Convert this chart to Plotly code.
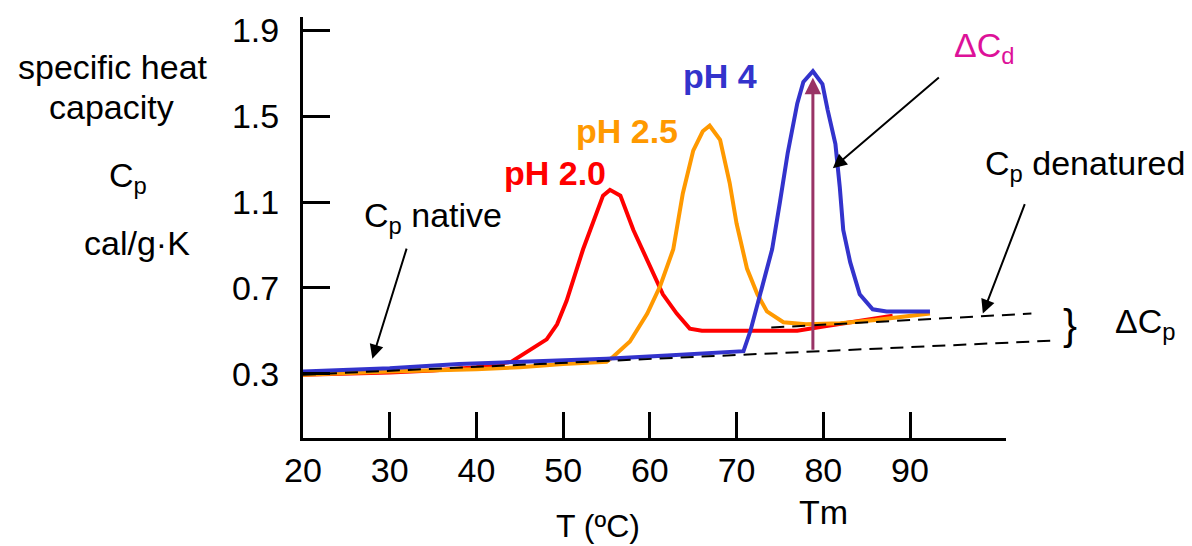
import plotly.graph_objects as go

# ---------------- data ----------------
T_red = [20, 25, 30, 35, 40, 44, 46.5, 48.1, 49.3, 50.4, 52.3, 53.4, 54.6, 55.4,
         56.6, 58.1, 59.7, 61.5, 63.1, 64.6, 66, 70, 75, 77, 80, 85, 88]
cp_red = [0.295, 0.30, 0.305, 0.315, 0.33, 0.355, 0.42, 0.46, 0.53, 0.64, 0.88, 1.0,
          1.13, 1.157, 1.13, 0.97, 0.83, 0.67, 0.58, 0.51, 0.50, 0.50, 0.50, 0.50,
          0.52, 0.55, 0.57]

T_orange = [20, 30, 40, 45, 50, 55, 55.8, 57.7, 59.7, 61.2, 62.7, 63.8, 65.0, 66.1,
            66.9, 68.1, 69.2, 70.0, 71.2, 72.4, 73.5, 75.4, 78, 82, 86, 90, 92.3]
cp_orange = [0.295, 0.31, 0.32, 0.33, 0.345, 0.355, 0.38, 0.45, 0.58, 0.71, 0.88,
             1.14, 1.34, 1.43, 1.456, 1.39, 1.19, 1.0, 0.79, 0.67, 0.59, 0.54, 0.53,
             0.535, 0.55, 0.57, 0.58]

T_blue = [20, 30, 38, 45, 55, 62, 70, 70.8, 71.6, 72.4, 73.1, 74.1, 75.0, 75.9,
          77.0, 77.7, 78.8, 79.9, 80.5, 81.4, 81.9, 82.3, 83.1, 83.7, 84.2, 85.7,
          87.3, 92.3]
cp_blue = [0.31, 0.325, 0.345, 0.355, 0.37, 0.385, 0.40, 0.405, 0.50, 0.62, 0.73,
           0.88, 1.10, 1.33, 1.56, 1.66, 1.71, 1.65, 1.53, 1.37, 1.17, 0.97, 0.82,
           0.73, 0.67, 0.60, 0.59, 0.59]

T_native_base = [20, 107]
cp_native_base = [0.295, 0.455]
T_denat_base = [74, 104]
cp_denat_base = [0.515, 0.58]

Tm = 78.8
dCd_bottom = 0.405
dCd_top = 1.68

x_ticks = [20, 30, 40, 50, 60, 70, 80, 90]
y_ticks = [0.3, 0.7, 1.1, 1.5, 1.9]

# ---------------- layout geometry ----------------
W, H = 1192, 546
ML, MR, MT, MB = 303, 20, 12, 108
PW, PH = W - ML - MR, H - MT - MB
X0, X1 = 20, 101.07          # visible x axis
px_per_unit = 703 / (X1 - X0)
X2_END = X0 + PW / px_per_unit
Y_RANGE = [0, 1.963]

FONT = "Arial, Liberation Sans, sans-serif"
FS = 34

def px(xp):
    return (xp - ML) / PW

def py(yp):
    return (H - MB - yp) / PH

fig = go.Figure()

fig.add_trace(go.Scatter(x=T_red, y=cp_red, mode="lines",
                         line=dict(color="#FF0000", width=4), xaxis="x", yaxis="y"))
fig.add_trace(go.Scatter(x=T_orange, y=cp_orange, mode="lines",
                         line=dict(color="#FF9900", width=4), xaxis="x", yaxis="y"))
fig.add_trace(go.Scatter(x=T_blue, y=cp_blue, mode="lines",
                         line=dict(color="#3333CC", width=4), xaxis="x", yaxis="y"))
fig.add_trace(go.Scatter(x=T_native_base, y=cp_native_base, mode="lines",
                         line=dict(color="black", width=2, dash="13px,8px"),
                         xaxis="x2", yaxis="y"))
fig.add_trace(go.Scatter(x=T_denat_base, y=cp_denat_base, mode="lines",
                         line=dict(color="black", width=2, dash="13px,8px"),
                         xaxis="x2", yaxis="y"))

def label(x, y, text, xref="x2", yref="y", size=FS, color="black"):
    return dict(x=x, y=y, xref=xref, yref=yref, text=text, showarrow=False,
                xanchor="center", yanchor="middle",
                font=dict(family=FONT, size=size, color=color))

def arrow(x, y, ax, ay, color="black", width=2, size=1.4):
    return dict(x=x, y=y, ax=ax, ay=ay, xref="x2", yref="y", axref="x2",
                ayref="y", text="", showarrow=True, arrowhead=2,
                arrowsize=size, arrowwidth=width, arrowcolor=color)

ann = []
# vertical delta Cd arrow at Tm
ann.append(arrow(Tm, dCd_top, Tm, dCd_bottom, color="#993366", width=3, size=1.1))
# pH labels
ann.append(label(68.1, 1.69, "<b>pH 4</b>", color="#3333CC"))
ann.append(label(57.4, 1.43, "<b>pH 2.5</b>", color="#FF9900"))
ann.append(label(49.1, 1.235, "<b>pH 2.0</b>", color="#FF0000"))
# Delta Cd label + arrow
ann.append(label(98.6, 1.82, "ΔC<sub>d</sub>", color="#DD1199"))
ann.append(arrow(81.1, 1.258, 93.5, 1.687))
# Cp native
ann.append(label(35.0, 1.03, "C<sub>p</sub> native"))
ann.append(arrow(28.0, 0.37, 32.0, 0.89))
# Cp denatured
ann.append(label(110.2, 1.27, "C<sub>p</sub> denatured"))
ann.append(arrow(98.4, 0.58, 103.3, 1.097))
# bracket and delta Cp
ann.append(label(108.5, 0.53, "}", size=42))
ann.append(label(117.1, 0.535, "ΔC<sub>p</sub>"))
# Tm
ann.append(label(80, py(513), "Tm", yref="paper"))
# x axis title
ann.append(label(px(598), py(527), "T (ºC)", xref="paper", yref="paper", size=32))
# y axis title block
for txt, xc, yc in [("specific heat", 113, 63), ("capacity", 111, 103),
                    ("C<sub>p</sub>", 128, 174), ("cal/g·K", 137, 241)]:
    ann.append(label(px(xc), py(yc), txt, xref="paper", yref="paper"))

fig.update_layout(
    width=W, height=H,
    margin=dict(l=ML, r=MR, t=MT, b=MB),
    paper_bgcolor="white", plot_bgcolor="rgba(0,0,0,0)",
    showlegend=False,
    font=dict(family=FONT, size=FS, color="black"),
    xaxis=dict(domain=[0, 703 / PW], range=[X0, X1], tickvals=x_ticks,
               ticktext=[str(v) for v in x_ticks],
               ticks="inside", ticklen=26, tickwidth=3, tickcolor="black",
               showline=True, linewidth=3, linecolor="black",
               showgrid=False, zeroline=False,
               tickfont=dict(family=FONT, size=FS, color="black")),
    xaxis2=dict(domain=[0, 1], range=[X0, X2_END], anchor="y",
                visible=False, showgrid=False, zeroline=False),
    yaxis=dict(range=Y_RANGE, tickvals=y_ticks,
               ticktext=[f"{v:.1f}" for v in y_ticks],
               ticks="inside", ticklen=27, tickwidth=3, tickcolor="black",
               showline=True, linewidth=3, linecolor="black",
               showgrid=False, zeroline=False, ticklabelstandoff=14,
               tickfont=dict(family=FONT, size=FS, color="black")),
    annotations=ann,
)

fig.write_html("out.html", config={"displayModeBar": False},
               post_script="document.body.style.margin='0px';")
